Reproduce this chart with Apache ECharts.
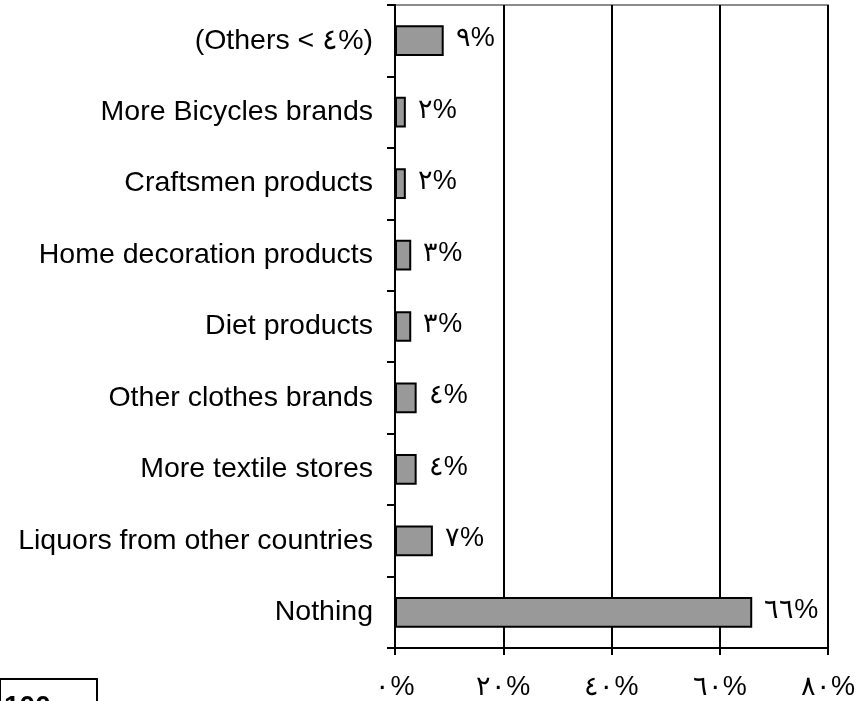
<!DOCTYPE html>
<html>
<head>
<meta charset="utf-8">
<script src="https://cdn.jsdelivr.net/npm/echarts@6/dist/echarts.min.js"></script>
<style>
  html, body { margin: 0; padding: 0; background: #fff; }
  #chart { width: 865px; height: 701px; }
</style>
</head>
<body>
<div id="chart"></div>
<script>
// bottom to top, as the axis lists them
const categories = [
  'Nothing',
  'Liquors from other countries',
  'More textile stores',
  'Other clothes brands',
  'Diet products',
  'Home decoration products',
  'Craftsmen products',
  'More Bicycles brands',
  '(Others < \u0664%)'
];
const values = [66, 7, 4, 4, 3, 3, 2, 2, 9];
const axisTicks = [0, 20, 40, 60, 80];

const arabicDigits = '٠١٢٣٤٥٦٧٨٩';
const toArabic = n => String(n).replace(/[0-9]/g, d => arabicDigits[d]);
const pct = n => toArabic(n) + '%';

const chart = echarts.init(document.getElementById('chart'), null, { renderer: 'canvas' });

const font = 'Liberation Sans, Arial, sans-serif';

chart.setOption({
  animation: false,
  backgroundColor: '#fff',
  grid: {
    left: 395, right: 37, top: 5, bottom: 52,
    show: true, borderColor: '#8c8c8c', borderWidth: 2
  },
  xAxis: [{
    type: 'value',
    min: axisTicks[0],
    max: axisTicks[axisTicks.length - 1],
    interval: 20,
    axisLine: { show: true, lineStyle: { color: '#000', width: 2 } },
    axisTick: { show: true, length: 7, lineStyle: { color: '#000', width: 2 } },
    axisLabel: {
      margin: 26, color: '#000', fontSize: 27, fontFamily: font,
      formatter: v => pct(v)
    },
    splitLine: {
      show: true, showMinLine: false, showMaxLine: true,
      lineStyle: { color: ['#000', '#000', '#000', '#000', '#8c8c8c'], width: 2 }
    }
  }, {
    // upper half of the crossing ticks
    type: 'value',
    position: 'bottom',
    offset: 0,
    min: axisTicks[0],
    max: axisTicks[axisTicks.length - 1],
    interval: 20,
    axisLine: { show: false },
    axisTick: { show: true, inside: true, length: 8, lineStyle: { color: '#000', width: 2 } },
    axisLabel: { show: false },
    splitLine: { show: false }
  }],
  yAxis: {
    type: 'category',
    data: categories,
    axisLine: { show: true, lineStyle: { color: '#000', width: 2 } },
    axisTick: { show: true, length: 8, lineStyle: { color: '#000', width: 2 } },
    axisLabel: { margin: 22, color: '#000', fontSize: 28.5, fontFamily: font }
  },
  series: [{
    type: 'bar',
    data: values,
    barWidth: '43%',
    itemStyle: { color: '#999999', borderColor: '#000', borderWidth: 2 },
    label: {
      show: true,
      position: 'right',
      distance: 12,
      color: '#000',
      fontSize: 27,
      fontFamily: font,
      offset: [0, -2],
      formatter: p => pct(p.value)
    }
  }],
  graphic: [{
    type: 'rect',
    shape: { x: 0, y: 679, width: 97, height: 30 },
    style: { fill: '#fff', stroke: '#000', lineWidth: 2 }
  }, {
    type: 'text',
    left: 4, top: 693,
    style: { text: '100', font: 'bold 28px ' + font, fill: '#000' }
  }]
});
</script>
</body>
</html>
